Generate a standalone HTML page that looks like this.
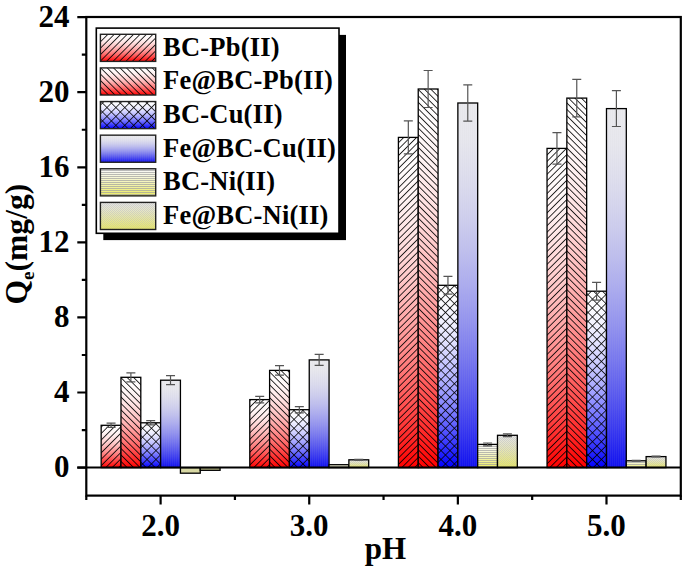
<!DOCTYPE html>
<html><head><meta charset="utf-8"><style>
html,body{margin:0;padding:0;background:#fff;}
body{width:685px;height:570px;overflow:hidden;}
svg{display:block;}
text{font-family:"Liberation Serif",serif;font-weight:bold;fill:#000;}
</style></head><body>
<svg width="685" height="570" viewBox="0 0 685 570">
<defs>
<linearGradient id="gR" x1="0" y1="0" x2="0" y2="1"><stop offset="0.00" stop-color="#ffffff"/><stop offset="0.10" stop-color="#fffbfb"/><stop offset="0.20" stop-color="#fff1f1"/><stop offset="0.30" stop-color="#ffe2e2"/><stop offset="0.40" stop-color="#ffcece"/><stop offset="0.50" stop-color="#ffb6b6"/><stop offset="0.60" stop-color="#ff9999"/><stop offset="0.70" stop-color="#ff7979"/><stop offset="0.80" stop-color="#ff5454"/><stop offset="0.90" stop-color="#ff2c2c"/><stop offset="1.00" stop-color="#ff0000"/></linearGradient>
<linearGradient id="gB" x1="0" y1="0" x2="0" y2="1"><stop offset="0.00" stop-color="#ffffff"/><stop offset="0.10" stop-color="#fbfbff"/><stop offset="0.20" stop-color="#f1f1ff"/><stop offset="0.30" stop-color="#e2e2ff"/><stop offset="0.40" stop-color="#ceceff"/><stop offset="0.50" stop-color="#b6b6ff"/><stop offset="0.60" stop-color="#9999ff"/><stop offset="0.70" stop-color="#7979ff"/><stop offset="0.80" stop-color="#5454ff"/><stop offset="0.90" stop-color="#2c2cff"/><stop offset="1.00" stop-color="#0000ff"/></linearGradient>
<linearGradient id="gB2" x1="0" y1="0" x2="0" y2="1"><stop offset="0.00" stop-color="#eaeaee"/><stop offset="0.10" stop-color="#e7e7ee"/><stop offset="0.20" stop-color="#dedeee"/><stop offset="0.30" stop-color="#d1d1ee"/><stop offset="0.40" stop-color="#c0c0ee"/><stop offset="0.50" stop-color="#ababef"/><stop offset="0.60" stop-color="#9393ef"/><stop offset="0.70" stop-color="#7777ef"/><stop offset="0.80" stop-color="#5858ef"/><stop offset="0.90" stop-color="#3636f0"/><stop offset="1.00" stop-color="#1010f0"/></linearGradient>
<linearGradient id="gY" x1="0" y1="0" x2="0" y2="1"><stop offset="0.00" stop-color="#fafafa"/><stop offset="0.10" stop-color="#f9f9f1"/><stop offset="0.20" stop-color="#f8f8e5"/><stop offset="0.30" stop-color="#f7f7d8"/><stop offset="0.40" stop-color="#f6f6c9"/><stop offset="0.50" stop-color="#f4f4b9"/><stop offset="0.60" stop-color="#f3f3a9"/><stop offset="0.70" stop-color="#f1f197"/><stop offset="0.80" stop-color="#efef85"/><stop offset="0.90" stop-color="#eeee73"/><stop offset="1.00" stop-color="#ecec60"/></linearGradient>
<linearGradient id="gY2" x1="0" y1="0" x2="0" y2="1"><stop offset="0.00" stop-color="#e4e4e4"/><stop offset="0.10" stop-color="#e4e4dd"/><stop offset="0.20" stop-color="#e5e5d3"/><stop offset="0.30" stop-color="#e6e6c8"/><stop offset="0.40" stop-color="#e6e6bb"/><stop offset="0.50" stop-color="#e7e7ad"/><stop offset="0.60" stop-color="#e8e89e"/><stop offset="0.70" stop-color="#e9e98e"/><stop offset="0.80" stop-color="#eaea7e"/><stop offset="0.90" stop-color="#ebeb6d"/><stop offset="1.00" stop-color="#ecec5c"/></linearGradient>
<pattern id="hF" patternUnits="userSpaceOnUse" width="4.55" height="4.55" patternTransform="rotate(45)"><rect x="0" y="0" width="0.8" height="4.55" fill="#000"/></pattern>
<pattern id="hB" patternUnits="userSpaceOnUse" width="4.55" height="4.55" patternTransform="rotate(-45)"><rect x="0" y="0" width="0.8" height="4.55" fill="#000"/></pattern>
<pattern id="hX" patternUnits="userSpaceOnUse" width="6.3" height="6.3" patternTransform="rotate(45)"><rect x="0" y="0" width="0.75" height="6.3" fill="#000"/><rect x="0" y="0" width="6.3" height="0.75" fill="#000"/></pattern>
<pattern id="hV" patternUnits="userSpaceOnUse" width="2" height="2"><rect x="0" y="0" width="1" height="2" fill="#c8c8c8" fill-opacity="0.07"/></pattern>
<pattern id="hH" patternUnits="userSpaceOnUse" width="2" height="2"><rect x="0" y="0" width="2" height="1" fill="#a0a0a0" fill-opacity="0.7"/></pattern>
<pattern id="hD" patternUnits="userSpaceOnUse" width="2" height="2"><rect x="0" y="0" width="1" height="1" fill="#b8b8b8" fill-opacity="0.45"/><rect x="1" y="1" width="1" height="1" fill="#b8b8b8" fill-opacity="0.45"/></pattern>
</defs>

<rect x="101.16" y="425.30" width="19.82" height="42.30" fill="url(#gR)"/><rect x="101.16" y="425.30" width="19.82" height="42.30" fill="url(#hF)"/>
<rect x="101.16" y="425.30" width="19.82" height="42.30" fill="none" stroke="#000" stroke-width="1.3"/>
<rect x="120.98" y="377.30" width="19.82" height="90.30" fill="url(#gR)"/><rect x="120.98" y="377.30" width="19.82" height="90.30" fill="url(#hB)"/>
<rect x="120.98" y="377.30" width="19.82" height="90.30" fill="none" stroke="#000" stroke-width="1.3"/>
<rect x="140.80" y="422.80" width="19.82" height="44.80" fill="url(#gB)"/><rect x="140.80" y="422.80" width="19.82" height="44.80" fill="url(#hX)"/>
<rect x="140.80" y="422.80" width="19.82" height="44.80" fill="none" stroke="#000" stroke-width="1.3"/>
<rect x="160.61" y="380.20" width="19.82" height="87.40" fill="url(#gB2)"/><rect x="160.61" y="380.20" width="19.82" height="87.40" fill="url(#hV)"/>
<rect x="160.61" y="380.20" width="19.82" height="87.40" fill="none" stroke="#000" stroke-width="1.3"/>
<rect x="180.43" y="467.60" width="19.82" height="5.60" fill="#d8d8a4"/>
<rect x="180.43" y="467.60" width="19.82" height="5.60" fill="none" stroke="#000" stroke-width="1.3"/>
<rect x="200.25" y="467.60" width="19.82" height="2.70" fill="#c8c890"/>
<rect x="200.25" y="467.60" width="19.82" height="2.70" fill="none" stroke="#000" stroke-width="1.3"/>
<rect x="249.79" y="399.60" width="19.82" height="68.00" fill="url(#gR)"/><rect x="249.79" y="399.60" width="19.82" height="68.00" fill="url(#hF)"/>
<rect x="249.79" y="399.60" width="19.82" height="68.00" fill="none" stroke="#000" stroke-width="1.3"/>
<rect x="269.60" y="370.40" width="19.82" height="97.20" fill="url(#gR)"/><rect x="269.60" y="370.40" width="19.82" height="97.20" fill="url(#hB)"/>
<rect x="269.60" y="370.40" width="19.82" height="97.20" fill="none" stroke="#000" stroke-width="1.3"/>
<rect x="289.42" y="409.70" width="19.82" height="57.90" fill="url(#gB)"/><rect x="289.42" y="409.70" width="19.82" height="57.90" fill="url(#hX)"/>
<rect x="289.42" y="409.70" width="19.82" height="57.90" fill="none" stroke="#000" stroke-width="1.3"/>
<rect x="309.24" y="359.90" width="19.82" height="107.70" fill="url(#gB2)"/><rect x="309.24" y="359.90" width="19.82" height="107.70" fill="url(#hV)"/>
<rect x="309.24" y="359.90" width="19.82" height="107.70" fill="none" stroke="#000" stroke-width="1.3"/>
<rect x="329.05" y="464.70" width="19.82" height="2.90" fill="url(#gY)"/><rect x="329.05" y="464.70" width="19.82" height="2.90" fill="url(#hH)"/>
<rect x="329.05" y="464.70" width="19.82" height="2.90" fill="none" stroke="#000" stroke-width="1.3"/>
<rect x="348.87" y="459.80" width="19.82" height="7.80" fill="url(#gY2)"/><rect x="348.87" y="459.80" width="19.82" height="7.80" fill="url(#hD)"/>
<rect x="348.87" y="459.80" width="19.82" height="7.80" fill="none" stroke="#000" stroke-width="1.3"/>
<rect x="398.41" y="137.40" width="19.82" height="330.20" fill="url(#gR)"/><rect x="398.41" y="137.40" width="19.82" height="330.20" fill="url(#hF)"/>
<rect x="398.41" y="137.40" width="19.82" height="330.20" fill="none" stroke="#000" stroke-width="1.3"/>
<rect x="418.23" y="89.00" width="19.82" height="378.60" fill="url(#gR)"/><rect x="418.23" y="89.00" width="19.82" height="378.60" fill="url(#hB)"/>
<rect x="418.23" y="89.00" width="19.82" height="378.60" fill="none" stroke="#000" stroke-width="1.3"/>
<rect x="438.05" y="285.30" width="19.82" height="182.30" fill="url(#gB)"/><rect x="438.05" y="285.30" width="19.82" height="182.30" fill="url(#hX)"/>
<rect x="438.05" y="285.30" width="19.82" height="182.30" fill="none" stroke="#000" stroke-width="1.3"/>
<rect x="457.86" y="103.00" width="19.82" height="364.60" fill="url(#gB2)"/><rect x="457.86" y="103.00" width="19.82" height="364.60" fill="url(#hV)"/>
<rect x="457.86" y="103.00" width="19.82" height="364.60" fill="none" stroke="#000" stroke-width="1.3"/>
<rect x="477.68" y="444.40" width="19.82" height="23.20" fill="url(#gY)"/><rect x="477.68" y="444.40" width="19.82" height="23.20" fill="url(#hH)"/>
<rect x="477.68" y="444.40" width="19.82" height="23.20" fill="none" stroke="#000" stroke-width="1.3"/>
<rect x="497.50" y="435.30" width="19.82" height="32.30" fill="url(#gY2)"/><rect x="497.50" y="435.30" width="19.82" height="32.30" fill="url(#hD)"/>
<rect x="497.50" y="435.30" width="19.82" height="32.30" fill="none" stroke="#000" stroke-width="1.3"/>
<rect x="547.04" y="148.40" width="19.82" height="319.20" fill="url(#gR)"/><rect x="547.04" y="148.40" width="19.82" height="319.20" fill="url(#hF)"/>
<rect x="547.04" y="148.40" width="19.82" height="319.20" fill="none" stroke="#000" stroke-width="1.3"/>
<rect x="566.85" y="98.10" width="19.82" height="369.50" fill="url(#gR)"/><rect x="566.85" y="98.10" width="19.82" height="369.50" fill="url(#hB)"/>
<rect x="566.85" y="98.10" width="19.82" height="369.50" fill="none" stroke="#000" stroke-width="1.3"/>
<rect x="586.67" y="291.20" width="19.82" height="176.40" fill="url(#gB)"/><rect x="586.67" y="291.20" width="19.82" height="176.40" fill="url(#hX)"/>
<rect x="586.67" y="291.20" width="19.82" height="176.40" fill="none" stroke="#000" stroke-width="1.3"/>
<rect x="606.49" y="108.60" width="19.82" height="359.00" fill="url(#gB2)"/><rect x="606.49" y="108.60" width="19.82" height="359.00" fill="url(#hV)"/>
<rect x="606.49" y="108.60" width="19.82" height="359.00" fill="none" stroke="#000" stroke-width="1.3"/>
<rect x="626.30" y="460.80" width="19.82" height="6.80" fill="url(#gY)"/><rect x="626.30" y="460.80" width="19.82" height="6.80" fill="url(#hH)"/>
<rect x="626.30" y="460.80" width="19.82" height="6.80" fill="none" stroke="#000" stroke-width="1.3"/>
<rect x="646.12" y="456.60" width="19.82" height="11.00" fill="url(#gY2)"/><rect x="646.12" y="456.60" width="19.82" height="11.00" fill="url(#hD)"/>
<rect x="646.12" y="456.60" width="19.82" height="11.00" fill="none" stroke="#000" stroke-width="1.3"/>
<path d="M111.07 423.20V427.40M106.57 423.20h9M106.57 427.40h9" stroke="#555" stroke-width="1.2" fill="none"/>
<path d="M130.89 372.80V381.80M126.39 372.80h9M126.39 381.80h9" stroke="#555" stroke-width="1.2" fill="none"/>
<path d="M150.70 420.70V424.90M146.20 420.70h9M146.20 424.90h9" stroke="#555" stroke-width="1.2" fill="none"/>
<path d="M170.52 375.70V384.70M166.02 375.70h9M166.02 384.70h9" stroke="#555" stroke-width="1.2" fill="none"/>
<path d="M259.70 396.40V402.80M255.20 396.40h9M255.20 402.80h9" stroke="#555" stroke-width="1.2" fill="none"/>
<path d="M279.51 365.60V375.20M275.01 365.60h9M275.01 375.20h9" stroke="#555" stroke-width="1.2" fill="none"/>
<path d="M299.33 406.60V412.80M294.83 406.60h9M294.83 412.80h9" stroke="#555" stroke-width="1.2" fill="none"/>
<path d="M319.15 354.40V365.40M314.65 354.40h9M314.65 365.40h9" stroke="#555" stroke-width="1.2" fill="none"/>
<path d="M358.78 459.40V460.20M354.28 459.40h9M354.28 460.20h9" stroke="#555" stroke-width="1.2" fill="none"/>
<path d="M408.32 120.90V153.90M403.82 120.90h9M403.82 153.90h9" stroke="#555" stroke-width="1.2" fill="none"/>
<path d="M428.14 70.50V107.50M423.64 70.50h9M423.64 107.50h9" stroke="#555" stroke-width="1.2" fill="none"/>
<path d="M447.95 276.40V294.20M443.45 276.40h9M443.45 294.20h9" stroke="#555" stroke-width="1.2" fill="none"/>
<path d="M467.77 84.80V121.20M463.27 84.80h9M463.27 121.20h9" stroke="#555" stroke-width="1.2" fill="none"/>
<path d="M487.59 443.00V445.80M483.09 443.00h9M483.09 445.80h9" stroke="#555" stroke-width="1.2" fill="none"/>
<path d="M507.40 433.90V436.70M502.90 433.90h9M502.90 436.70h9" stroke="#555" stroke-width="1.2" fill="none"/>
<path d="M556.95 132.60V164.20M552.45 132.60h9M552.45 164.20h9" stroke="#555" stroke-width="1.2" fill="none"/>
<path d="M576.76 79.40V116.80M572.26 79.40h9M572.26 116.80h9" stroke="#555" stroke-width="1.2" fill="none"/>
<path d="M596.58 282.30V300.10M592.08 282.30h9M592.08 300.10h9" stroke="#555" stroke-width="1.2" fill="none"/>
<path d="M616.40 90.70V126.50M611.90 90.70h9M611.90 126.50h9" stroke="#555" stroke-width="1.2" fill="none"/>
<path d="M636.21 460.40V461.20M631.71 460.40h9M631.71 461.20h9" stroke="#555" stroke-width="1.2" fill="none"/>
<path d="M656.03 456.20V457.00M651.53 456.20h9M651.53 457.00h9" stroke="#555" stroke-width="1.2" fill="none"/>
<line x1="77.30" y1="467.6" x2="680.8" y2="467.6" stroke="#000" stroke-width="2"/>
<rect x="86.3" y="17.0" width="594.50" height="478.60" fill="none" stroke="#000" stroke-width="2.2"/>
<path d="M77.30 467.60H86.3M81.80 430.06H86.3M77.30 392.52H86.3M81.80 354.98H86.3M77.30 317.44H86.3M81.80 279.90H86.3M77.30 242.36H86.3M81.80 204.82H86.3M77.30 167.28H86.3M81.80 129.74H86.3M77.30 92.20H86.3M81.80 54.66H86.3M77.30 17.12H86.3M86.30 495.6V500.10M234.93 495.6V500.10M383.55 495.6V500.10M532.17 495.6V500.10M680.80 495.6V500.10M160.61 495.6V504.60M309.24 495.6V504.60M457.86 495.6V504.60M606.49 495.6V504.60" stroke="#000" stroke-width="2.2" fill="none"/>
<text x="69.5" y="477.20" font-size="31" text-anchor="end">0</text>
<text x="69.5" y="402.12" font-size="31" text-anchor="end">4</text>
<text x="69.5" y="327.04" font-size="31" text-anchor="end">8</text>
<text x="69.5" y="251.96" font-size="31" text-anchor="end">12</text>
<text x="69.5" y="176.88" font-size="31" text-anchor="end">16</text>
<text x="69.5" y="101.80" font-size="31" text-anchor="end">20</text>
<text x="69.5" y="26.72" font-size="31" text-anchor="end">24</text>
<text x="160.61" y="536" font-size="31" text-anchor="middle">2.0</text>
<text x="309.24" y="536" font-size="31" text-anchor="middle">3.0</text>
<text x="457.86" y="536" font-size="31" text-anchor="middle">4.0</text>
<text x="606.49" y="536" font-size="31" text-anchor="middle">5.0</text>
<text x="385.5" y="558.5" font-size="31" text-anchor="middle">pH</text>
<text transform="translate(26.6,304.5) rotate(-90)" font-size="31.6">Q<tspan font-size="19" dy="7.5">e</tspan><tspan dy="-7.5">(mg/g)</tspan></text>
<rect x="103.30" y="34.90" width="242.70" height="205.20" fill="#000"/>
<rect x="96.30" y="28.10" width="242.70" height="205.20" fill="#fff" stroke="#000" stroke-width="1.6"/>
<rect x="100.40" y="34.30" width="55.30" height="27.10" fill="url(#gR)"/><rect x="100.40" y="34.30" width="55.30" height="27.10" fill="url(#hF)"/>
<rect x="100.4" y="34.30" width="55.3" height="27.1" fill="none" stroke="#222" stroke-width="1.4"/>
<text x="163" y="55.70" font-size="26.5" letter-spacing="0.22">BC-Pb(II)</text>
<rect x="100.40" y="67.92" width="55.30" height="27.10" fill="url(#gR)"/><rect x="100.40" y="67.92" width="55.30" height="27.10" fill="url(#hB)"/>
<rect x="100.4" y="67.92" width="55.3" height="27.1" fill="none" stroke="#222" stroke-width="1.4"/>
<text x="163" y="89.32" font-size="26.5" letter-spacing="0.22">Fe@BC-Pb(II)</text>
<rect x="100.40" y="101.54" width="55.30" height="27.10" fill="url(#gB)"/><rect x="100.40" y="101.54" width="55.30" height="27.10" fill="url(#hX)"/>
<rect x="100.4" y="101.54" width="55.3" height="27.1" fill="none" stroke="#222" stroke-width="1.4"/>
<text x="163" y="122.94" font-size="26.5" letter-spacing="0.22">BC-Cu(II)</text>
<rect x="100.40" y="135.16" width="55.30" height="27.10" fill="url(#gB2)"/><rect x="100.40" y="135.16" width="55.30" height="27.10" fill="url(#hV)"/>
<rect x="100.4" y="135.16" width="55.3" height="27.1" fill="none" stroke="#222" stroke-width="1.4"/>
<text x="163" y="156.56" font-size="26.5" letter-spacing="0.22">Fe@BC-Cu(II)</text>
<rect x="100.40" y="168.78" width="55.30" height="27.10" fill="url(#gY)"/><rect x="100.40" y="168.78" width="55.30" height="27.10" fill="url(#hH)"/>
<rect x="100.4" y="168.78" width="55.3" height="27.1" fill="none" stroke="#222" stroke-width="1.4"/>
<text x="163" y="190.18" font-size="26.5" letter-spacing="0.22">BC-Ni(II)</text>
<rect x="100.40" y="202.40" width="55.30" height="27.10" fill="url(#gY2)"/><rect x="100.40" y="202.40" width="55.30" height="27.10" fill="url(#hD)"/>
<rect x="100.4" y="202.40" width="55.3" height="27.1" fill="none" stroke="#222" stroke-width="1.4"/>
<text x="163" y="223.80" font-size="26.5" letter-spacing="0.22">Fe@BC-Ni(II)</text>
</svg>
</body></html>
